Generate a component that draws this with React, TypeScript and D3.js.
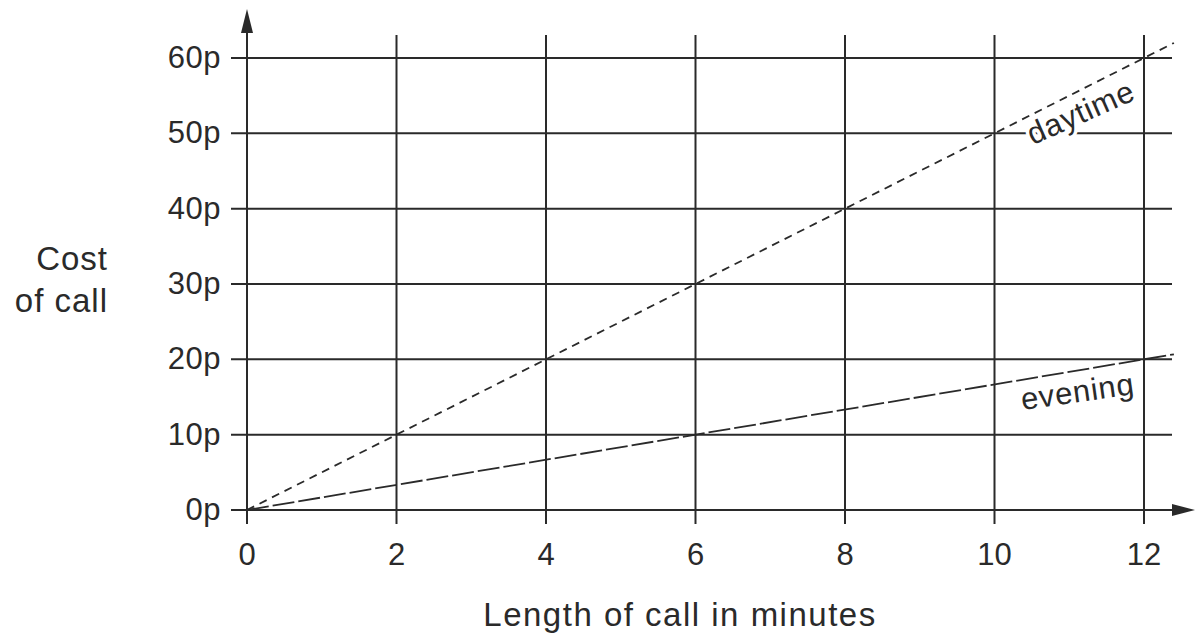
import React from "react";
import * as d3 from "d3";

const xTicks = [0, 2, 4, 6, 8, 10, 12];
const yTicks = [0, 10, 20, 30, 40, 50, 60];
const yTickLabels = ["0p", "10p", "20p", "30p", "40p", "50p", "60p"];
const daytimeMinutes = [0, 12.4];
const daytimeCost = [0, 62];
const eveningMinutes = [0, 12.4];
const eveningCost = [0, 20.67];

export default function App() {
  const W = 1195, H = 635;
  const x = d3.scaleLinear().domain([0, 12]).range([247, 1144]);
  const y = d3.scaleLinear().domain([0, 60]).range([510, 58]);
  const ink = "#2a2a2a";
  const font = "'Liberation Sans', Arial, sans-serif";
  const line = d3.line<[number, number]>().x(d => x(d[0])).y(d => y(d[1]));
  const day = daytimeMinutes.map((m, i) => [m, daytimeCost[i]] as [number, number]);
  const eve = eveningMinutes.map((m, i) => [m, eveningCost[i]] as [number, number]);
  const dayAngle = -24;
  const eveAngle = -8;
  const gridRight = 1172;
  return (
    <svg width={W} height={H} style={{ position: "absolute", left: 0, top: 0, background: "#fff" }}>
      {/* horizontal grid */}
      {yTicks.map(t => (
        <line key={"h" + t} x1={231} x2={gridRight} y1={y(t)} y2={y(t)} stroke={ink} strokeWidth={2} />
      ))}
      {/* vertical grid */}
      {xTicks.filter(t => t > 0).map(t => (
        <line key={"v" + t} x1={x(t)} x2={x(t)} y1={35} y2={524} stroke={ink} strokeWidth={2} />
      ))}
      {/* y axis */}
      <line x1={x(0)} x2={x(0)} y1={28} y2={524} stroke={ink} strokeWidth={2} />
      <path d={`M${x(0)},9 L${x(0) - 6},33 L${x(0) + 6},33 Z`} fill={ink} />
      {/* x axis */}
      <line x1={231} x2={1178} y1={y(0)} y2={y(0)} stroke={ink} strokeWidth={2} />
      <path d={`M1195,${y(0)} L1172,${y(0) - 6} L1172,${y(0) + 6} Z`} fill={ink} />
      {/* line labels (with white halo knocking out grid) */}
      <text x={1085} y={122} transform={`rotate(${dayAngle},1085,122)`} textAnchor="middle" fontFamily={font} fontSize={31} letterSpacing={0.8} fill={ink} stroke="#fff" strokeWidth={7} paintOrder="stroke" strokeLinejoin="round">
        daytime
      </text>
      <text x={1079} y={402} transform={`rotate(${eveAngle},1079,402)`} textAnchor="middle" fontFamily={font} fontSize={31} letterSpacing={0.8} fill={ink} stroke="#fff" strokeWidth={7} paintOrder="stroke" strokeLinejoin="round">
        evening
      </text>
      {/* data lines */}
      <path d={line(day) || ""} fill="none" stroke={ink} strokeWidth={1.8} strokeDasharray="8 6" />
      <path d={line(eve) || ""} fill="none" stroke={ink} strokeWidth={1.8} strokeDasharray="22 4" />
      {/* tick labels */}
      {yTicks.map((t, i) => (
        <text key={"yl" + t} x={221} y={y(t) + 10} textAnchor="end" fontFamily={font} fontSize={31} letterSpacing={0.5} fill={ink}>
          {yTickLabels[i]}
        </text>
      ))}
      {xTicks.map(t => (
        <text key={"xl" + t} x={x(t)} y={565} textAnchor="middle" fontFamily={font} fontSize={31} fill={ink}>
          {t}
        </text>
      ))}
      {/* axis titles */}
      <text x={108} y={270} textAnchor="end" fontFamily={font} fontSize={33} letterSpacing={1} fill={ink}>Cost</text>
      <text x={108} y={312} textAnchor="end" fontFamily={font} fontSize={33} letterSpacing={1} fill={ink}>of call</text>
      <text x={680} y={626} textAnchor="middle" fontFamily={font} fontSize={33} letterSpacing={1.5} fill={ink}>Length of call in minutes</text>
    </svg>
  );
}
